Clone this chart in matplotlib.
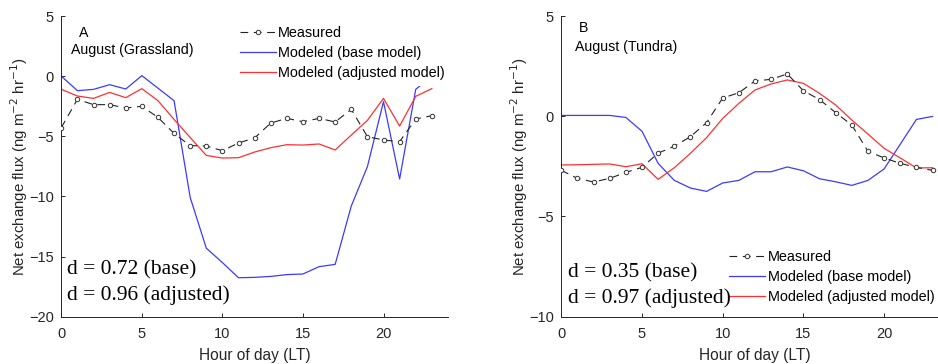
import matplotlib
matplotlib.use("Agg")
import matplotlib.pyplot as plt
import numpy as np

hours = list(range(24))

# Panel A: August (Grassland)
meas_a = [-4.28, -1.93, -2.37, -2.37, -2.65, -2.51, -3.43, -4.76, -5.78, -5.81, -6.20, -5.56,
          -5.14, -3.90, -3.51, -3.79, -3.51, -3.81, -2.76, -5.03, -5.31, -5.45, -3.56, -3.29]
base_a = [0.0, -1.21, -1.10, -0.71, -1.07, 0.04, -1.0, -2.04, -10.08, -14.3, -15.5, -16.76,
          -16.73, -16.65, -16.5, -16.45, -15.84, -15.65, -10.8, -7.53, -2.12, -8.55, -1.10, 0.0]
adj_a = [-1.10, -1.65, -1.85, -1.35, -1.79, -1.04, -2.04, -3.6, -5.1, -6.59, -6.81, -6.78,
         -6.31, -5.95, -5.70, -5.73, -5.64, -6.14, -4.9, -3.68, -1.85, -4.15, -1.68, -1.04]

# Panel B: August (Tundra)
meas_b = [-2.70, -3.10, -3.28, -3.10, -2.80, -2.55, -1.84, -1.50, -1.02, -0.32, 0.91, 1.17,
          1.76, 1.84, 2.11, 1.27, 0.83, 0.18, -0.44, -1.75, -2.08, -2.35, -2.55, -2.70]
base_b = [0.04, 0.04, 0.04, 0.04, -0.06, -0.75, -2.35, -3.20, -3.58, -3.75, -3.33, -3.20,
          -2.77, -2.77, -2.53, -2.72, -3.12, -3.27, -3.45, -3.20, -2.63, -1.40, -0.16, -0.01]
adj_b = [-2.43, -2.42, -2.40, -2.38, -2.52, -2.37, -3.15, -2.57, -1.85, -1.07, -0.11, 0.64,
         1.31, 1.61, 1.81, 1.64, 1.14, 0.56, -0.19, -0.89, -1.60, -2.08, -2.58, -2.57]

labels = ["Measured", "Modeled (base model)", "Modeled (adjusted model)"]
panel_titles = ["A", "B"]
panel_sub = ["August (Grassland)", "August (Tundra)"]
d_texts = [["d = 0.72 (base)", "d = 0.96 (adjusted)"],
           ["d = 0.35 (base)", "d = 0.97 (adjusted)"]]
yticks_list = [[5, 0, -5, -10, -15, -20], [5, 0, -5, -10]]
ylims = [(-20, 5), (-10, 5)]

plt.rcParams['font.family'] = ['Liberation Sans', 'DejaVu Sans']
W, H = 938, 364
fig = plt.figure(figsize=(W / 100, H / 100), dpi=100)

axc = '#262626'
positions = [
    [61.3 / W, (H - 316.7) / H, 24 * 16.11 / W, 300.7 / H],
    [561.3 / W, (H - 316.7) / H, 24 * 16.14 / W, 300.7 / H],
]
legend_pos = [(0.446, 0.987), (0.419, 0.240)]
title_y = [(0.943, 0.887), (0.960, 0.897)]
title_x = [(0.046, 0.025), (0.045, 0.035)]
d_pos = [(0.014, 0.155, 0.072), (0.018, 0.145, 0.063)]

data = [(meas_a, base_a, adj_a), (meas_b, base_b, adj_b)]
for i in range(2):
    ax = fig.add_axes(positions[i])
    meas, base, adj = data[i]
    l1, = ax.plot(hours, meas, color='#222222', lw=0.8, ls=(0, (7, 5)), marker='o',
                  ms=3.2, mfc='white', mec='#333333', mew=0.7, zorder=3)
    l2, = ax.plot(hours, base, color='#3b3bff', lw=0.9, zorder=2)
    l3, = ax.plot(hours, adj, color='#ff3030', lw=0.9, zorder=2)
    ax.set_xlim(0, 24)
    ax.set_ylim(*ylims[i])
    ax.set_xticks([0, 5, 10, 15, 20])
    ax.set_yticks(yticks_list[i])
    for s in ['top', 'right']:
        ax.spines[s].set_visible(False)
    for s in ['left', 'bottom']:
        ax.spines[s].set_color(axc)
        ax.spines[s].set_linewidth(0.7)
    ax.tick_params(direction='in', length=3, width=0.7, colors=axc, labelsize=10.5,
                   labelcolor='#262626')
    ax.tick_params(axis='x', pad=7.5)
    ax.tick_params(axis='y', pad=5.5)
    ax.set_xlabel("Hour of day (LT)", fontsize=11.2, color='#262626')
    ax.set_ylabel("Net exchange flux (ng m$^{-2}$ hr$^{-1}$)", fontsize=10.8,
                  color='#262626')
    ax.xaxis.set_label_coords(0.5, -0.104)
    ax.yaxis.set_label_coords(-0.081, 0.5)
    ax.text(title_x[i][0], title_y[i][0], panel_titles[i], transform=ax.transAxes,
            fontsize=10.2, ha='left', va='center')
    ax.text(title_x[i][1], title_y[i][1], panel_sub[i], transform=ax.transAxes,
            fontsize=10.2, ha='left', va='center')
    ax.text(d_pos[i][0], d_pos[i][1], d_texts[i][0], transform=ax.transAxes,
            fontsize=15.5, family='Liberation Serif', ha='left', va='center', zorder=6)
    ax.text(d_pos[i][0], d_pos[i][2], d_texts[i][1], transform=ax.transAxes,
            fontsize=15.5, family='Liberation Serif', ha='left', va='center', zorder=6)
    leg = ax.legend([l1, l2, l3], labels, loc='upper left', bbox_to_anchor=legend_pos[i],
                    frameon=True, fontsize=10.4, handlelength=2.5, handletextpad=0.15,
                    labelspacing=0.42, borderpad=0.4, borderaxespad=0.0)
    leg.get_frame().set_edgecolor('none')
    leg.get_frame().set_facecolor('white')
    leg.get_frame().set_alpha(1)
    leg.set_zorder(5)

fig.savefig("out.png", dpi=100)
